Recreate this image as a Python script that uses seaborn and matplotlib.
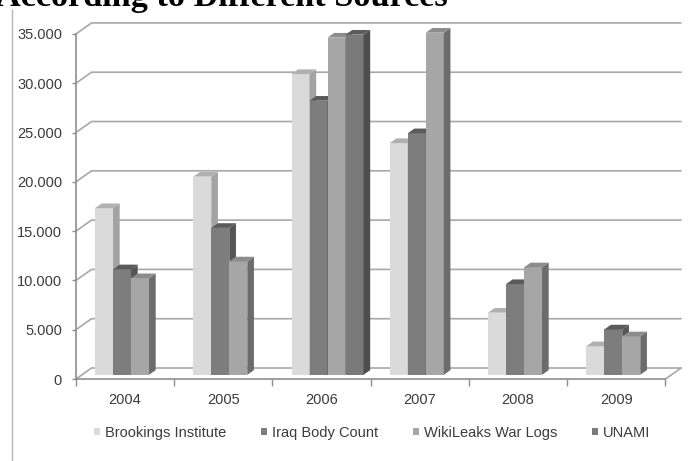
import numpy as np
import pandas as pd
import seaborn as sns
import matplotlib.pyplot as plt
from matplotlib.patches import Polygon, Rectangle
from matplotlib.lines import Line2D

# data (deaths per year, per source)
years = ["2004", "2005", "2006", "2007", "2008", "2009"]
sources = ["Brookings Institute", "Iraq Body Count", "WikiLeaks War Logs", "UNAMI"]
brookings = [16900, 20100, 30500, 23500, 6300, 2900]
iraq_body_count = [10700, 14900, 27800, 24500, 9200, 4600]
wikileaks = [9800, 11500, 34200, 34700, 10900, 3900]
unami = [np.nan, np.nan, 34500, np.nan, np.nan, np.nan]
yticks = [0, 5000, 10000, 15000, 20000, 25000, 30000, 35000]

front = {"Brookings Institute": "#dadada", "Iraq Body Count": "#7d7d7d",
         "WikiLeaks War Logs": "#a6a6a6", "UNAMI": "#7a7a7a"}
side = {"Brookings Institute": "#a3a3a3", "Iraq Body Count": "#555555",
        "WikiLeaks War Logs": "#6c6c6c", "UNAMI": "#4e4e4e"}
top = {"Brookings Institute": "#b0b0b0", "Iraq Body Count": "#5a5a5a",
       "WikiLeaks War Logs": "#8c8c8c", "UNAMI": "#5c5c5c"}

df = pd.DataFrame({"year": years * 4,
                   "source": np.repeat(sources, len(years)),
                   "deaths": brookings + iraq_body_count + wikileaks + unami})
df = df.dropna()

sns.set_style("white")
plt.rcParams["font.family"] = ["Liberation Sans", "DejaVu Sans"]
txt = "#3c3c3c"
grid_c = "#a8a8a8"

fig = plt.figure(figsize=(7, 4.61), dpi=100)
ax = fig.add_axes([76 / 700, 82 / 461, 605 / 700, 364.8 / 461])

sns.barplot(data=df, x="year", y="deaths", hue="source", order=years,
            hue_order=sources, palette=front, width=0.733, saturation=1,
            errorbar=None, linewidth=0, legend=False, ax=ax)

# fake 3D: bars sit a bit back on the floor, get a side and top face
shift_x, shift_y = 0.06, 425
sdx, sdy = 0.068, 475
for i, (src, cont) in enumerate(zip(sources, ax.containers)):
    for bar in cont:
        h = bar.get_height()
        if not np.isfinite(h) or h == 0:
            continue
        bar.set_x(bar.get_x() + shift_x)
        bar.set_y(shift_y)
        bar.set_zorder(2 + i * 0.1)
        x0 = bar.get_x()
        x1 = x0 + bar.get_width()
        y0, y1 = shift_y, shift_y + h
        ax.add_patch(Polygon([(x1, y0), (x1 + sdx, y0 + sdy), (x1 + sdx, y1 + sdy), (x1, y1)],
                             closed=True, facecolor=side[src], edgecolor="none", zorder=2.05 + i * 0.1))
        ax.add_patch(Polygon([(x0, y1), (x0 + sdx, y1 + sdy), (x1 + sdx, y1 + sdy), (x1, y1)],
                             closed=True, facecolor=top[src], edgecolor="none", zorder=2.05 + i * 0.1))

# back wall gridlines + left wall diagonals
ddx, ddy = 0.158, 1115
for v in yticks:
    ax.plot([-0.5, -0.5 + ddx, 5.5 + ddx], [v, v + ddy, v + ddy], color=grid_c,
            lw=1.2, zorder=0.5, clip_on=False, solid_joinstyle="miter")
# right edge of the floor
ax.plot([5.5, 5.5 + ddx], [0, ddy], color=grid_c, lw=1.2, zorder=0.5, clip_on=False)

ax.set_xlim(-0.5, 5.5 + ddx)
ax.set_ylim(0, 37000)
ax.set_yticks(yticks)
ax.set_yticklabels([f"{v:,}".replace(",", ".") for v in yticks])
ax.set_xticks(range(len(years)))
ax.set_xticklabels(years)
ax.set_xticks(np.arange(-0.5, 6), minor=True)
ax.set_xlabel("")
ax.set_ylabel("")

for s in ["top", "right"]:
    ax.spines[s].set_visible(False)
ax.spines["left"].set_bounds(0, 35000)
ax.spines["bottom"].set_bounds(-0.5, 5.5)
for s in ["left", "bottom"]:
    ax.spines[s].set_color("#8e8e8e")
    ax.spines[s].set_linewidth(1.2)

ax.tick_params(axis="y", which="major", length=3, width=1, color="#8e8e8e",
               pad=7, labelsize=10.5, labelcolor=txt, left=True)
ax.tick_params(axis="x", which="major", length=0, pad=10, labelsize=10.5, labelcolor=txt)
ax.tick_params(axis="x", which="minor", length=5, width=1, color="#8e8e8e", bottom=True)

# legend with small squares
handles = [Rectangle((0, 0), 1, 1, facecolor=front[s], edgecolor="none") for s in sources]
fig.legend(handles, sources, loc="center", bbox_to_anchor=(372 / 700, 28.5 / 461), ncol=4,
           frameon=False, fontsize=10.5, labelcolor=txt, handlelength=0.42, handleheight=0.42,
           handletextpad=0.32, columnspacing=2.4, borderpad=0)

# cut-off heading above the chart
fig.text(-4 / 700, 1 - 6 / 461, "According to Different Sources", family="Liberation Serif",
         weight="bold", size=24.7, ha="left", va="baseline", color="black")

# thin border line on the left
fig.add_artist(Line2D([11.5 / 700, 11.5 / 700], [0, 1 - 10 / 461], transform=fig.transFigure,
                      color="#b4b4b4", lw=1))

fig.savefig("out.png", dpi=100)
